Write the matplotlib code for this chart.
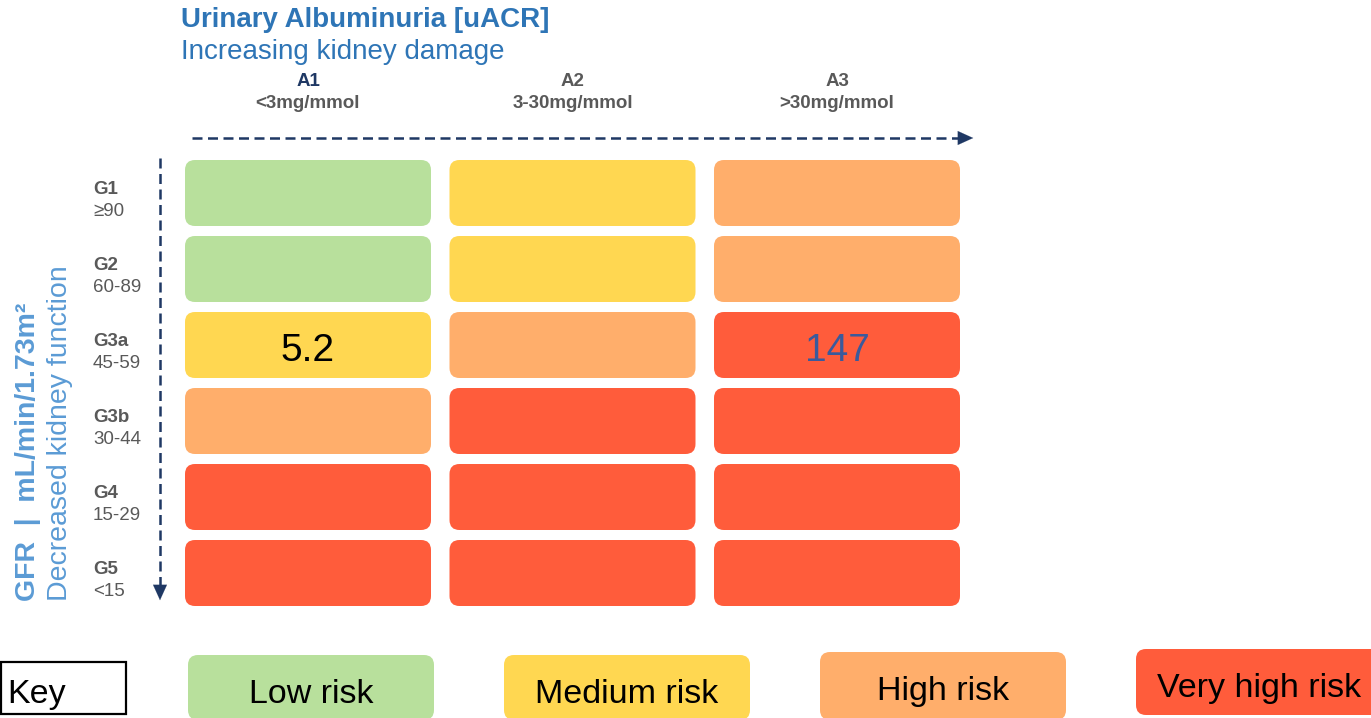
import matplotlib.pyplot as plt
from matplotlib.patches import FancyBboxPatch, Rectangle

plt.rcParams['font.family'] = ['Liberation Sans', 'DejaVu Sans']

# KDIGO-style heat map: GFR category vs albuminuria category
albumin_cats = ["A1", "A2", "A3"]
albumin_ranges = ["<3mg/mmol", "3-30mg/mmol", ">30mg/mmol"]
gfr_cats = ["G1", "G2", "G3a", "G3b", "G4", "G5"]
gfr_ranges = ["≥90", "60-89", "45-59", "30-44", "15-29", "<15"]
risk_levels = ["Low risk", "Medium risk", "High risk", "Very high risk"]
risk_grid = [
    [0, 1, 2],
    [0, 1, 2],
    [1, 2, 3],
    [2, 3, 3],
    [3, 3, 3],
    [3, 3, 3],
]
# patient results placed in their cells
value_rows = [2, 2]
value_cols = [0, 2]
value_labels = ["5.2", "147"]
value_colors = ["black", "#3A5A9C"]

risk_colors = ["#B8E09C", "#FFD751", "#FFAE6B", "#FF5C3B"]
navy = "#1F3864"
grey = "#595959"
blue = "#2E75B6"
light_blue = "#5B9BD5"

# layout (pixel units, y downwards)
W, H = 1371, 718
x0, col_pitch, cell_w = 185, 264.5, 246
y0, row_pitch, cell_h = 160, 76, 66
key_x0, key_pitch, key_w = 188, 316, 246
key_tops = [655, 655, 652, 649]

fig = plt.figure(figsize=(W / 100, H / 100), dpi=100)
ax = fig.add_axes([0, 0, 1, 1])
ax.set_xlim(0, W)
ax.set_ylim(H, 0)
ax.axis("off")

for r, row in enumerate(risk_grid):
    for c, level in enumerate(row):
        ax.add_patch(FancyBboxPatch((x0 + c * col_pitch, y0 + r * row_pitch), cell_w, cell_h,
                                    boxstyle="round,pad=0,rounding_size=10",
                                    fc=risk_colors[level], ec="none"))

for r, c, lab, col in zip(value_rows, value_cols, value_labels, value_colors):
    ax.text(x0 + c * col_pitch + cell_w / 2, y0 + r * row_pitch + 49, lab,
            ha="center", va="baseline", fontsize=28, color=col)

# column headers
for c, (cat, rng) in enumerate(zip(albumin_cats, albumin_ranges)):
    cx = x0 + c * col_pitch + cell_w / 2
    ax.text(cx, 81, cat, ha="center", va="center", fontsize=13.5, fontweight="bold",
            color=navy if c == 0 else grey)
    ax.text(cx, 104, rng, ha="center", va="center", fontsize=13.5, fontweight="bold", color=grey)

# row headers
for r, (cat, rng) in enumerate(zip(gfr_cats, gfr_ranges)):
    ty = y0 + r * row_pitch
    ax.text(93, ty + 29, cat, ha="left", va="center", fontsize=13.5, fontweight="bold", color=grey)
    ax.text(93, ty + 52, rng, ha="left", va="center", fontsize=13.5, color=grey)

ax.text(181, 20, "Urinary Albuminuria [uACR]", ha="left", va="center", fontsize=20,
        fontweight="bold", color=blue)
ax.text(181, 52, "Increasing kidney damage", ha="left", va="center", fontsize=20, color=blue)

ax.text(28, 601, "GFR  |  mL/min/1.73m²", rotation=90, ha="center", va="bottom",
        fontsize=20.5, fontweight="bold", color=light_blue)
ax.text(60, 601, "Decreased kidney function", rotation=90, ha="center", va="bottom",
        fontsize=20.5, color=light_blue)

# dashed direction arrows
ax.plot([192, 962], [138, 138], color=navy, lw=1.8, ls=(0, (4, 2.2)))
ax.annotate("", xy=(976, 138), xytext=(960, 138),
            arrowprops=dict(arrowstyle="-|>,head_length=1.1,head_width=0.5", color=navy, lw=0.1))
ax.plot([160, 160], [158, 588], color=navy, lw=1.8, ls=(0, (4, 2.2)))
ax.annotate("", xy=(160, 603), xytext=(160, 586),
            arrowprops=dict(arrowstyle="-|>,head_length=1.1,head_width=0.5", color=navy, lw=0.1))

# key
ax.add_patch(Rectangle((1, 662), 125, 52, fc="white", ec="black", lw=1.6))
ax.text(7, 703, "Key", ha="left", va="baseline", fontsize=24.5)
key_bottoms = [720, 720, 720, 715]
for i, lab in enumerate(risk_levels):
    kx = key_x0 + i * key_pitch
    ax.add_patch(FancyBboxPatch((kx, key_tops[i]), key_w, key_bottoms[i] - key_tops[i],
                                boxstyle="round,pad=0,rounding_size=10",
                                fc=risk_colors[i], ec="none"))
    ax.text(kx + key_w / 2, key_tops[i] + 48, lab, ha="center", va="baseline", fontsize=24.5)

fig.savefig("out.png", dpi=100)
